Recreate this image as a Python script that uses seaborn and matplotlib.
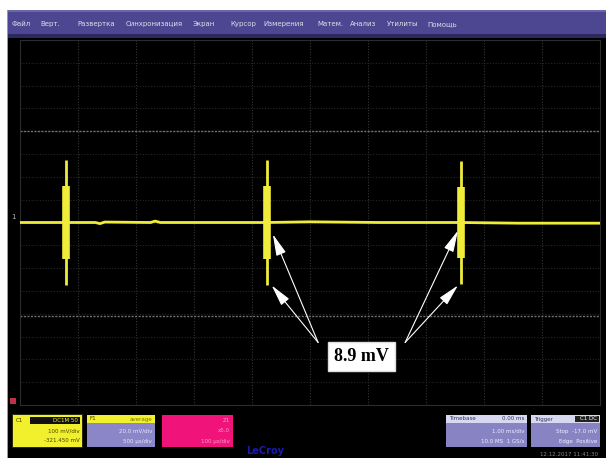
import numpy as np
import pandas as pd
import matplotlib
matplotlib.use("Agg")
import matplotlib.pyplot as plt
from matplotlib.patches import Rectangle
import seaborn as sns

W, H = 606, 458

# --- data (in graticule divisions: 10 horizontal, 8 vertical) ---
menu_items = ["Файл", "Верт.", "Развертка", "Синхронизация", "Экран", "Курсор",
              "Измерения", "Матем.", "Анализ", "Утилиты", "Помощь"]
menu_x = [12, 40, 77, 126, 193, 230, 263, 317, 350, 387, 427]

base_t = [0.0, 0.79, 1.3, 1.38, 1.46, 2.25, 2.33, 2.42, 4.26, 5.0, 6.2, 7.6, 8.6, 10.0]
base_v = [0.0, 0.0, 0.0, -0.025, 0.01, 0.0, 0.03, 0.0, 0.0, 0.015, 0.0, 0.0, -0.015, -0.015]

pulse_t = [0.79, 4.26, 7.6]
pulse_peak = [1.38, 1.36, 1.34]
pulse_core = [0.81, 0.80, 0.78]

cursor_levels = [2.0, -2.05]

label_text = "8.9 mV"
label_xy = (5.89, -2.94)
arrow_tails = [(5.14, -2.63), (5.14, -2.63), (6.64, -2.63), (6.64, -2.63)]
arrow_heads = [(4.36, -0.26), (4.34, -1.38), (7.55, -0.18), (7.55, -1.38)]

YELLOW = "#efec3a"


def px_rect(x0, y0, x1, y1):
    return [x0 / W, 1 - y1 / H, (x1 - x0) / W, (y1 - y0) / H]


def fig_box(fig, x0, y0, x1, y1, color, z=2):
    fig.add_artist(Rectangle((x0 / W, 1 - y1 / H), (x1 - x0) / W, (y1 - y0) / H,
                             transform=fig.transFigure, facecolor=color,
                             edgecolor="none", zorder=z))


def fig_text(fig, x, y, s, **kw):
    fig.text(x / W, 1 - y / H, s, **kw)


sns.set_theme(style="dark")
plt.rcParams["font.family"] = ["DejaVu Sans"]

fig = plt.figure(figsize=(W / 100, H / 100), dpi=100)
fig.patch.set_facecolor("white")

# screen background
fig_box(fig, 7, 10, 606, 458, "black", z=0)
fig_box(fig, 7, 10, 8, 458, "#9a9a9a", z=1)

# menu bar
fig_box(fig, 8, 10, 606, 38, "#4c4790", z=1)
fig_box(fig, 8, 10, 606, 12, "#6a66a8", z=1)
fig_box(fig, 8, 34, 606, 38, "#2c2960", z=1)
for name, x in zip(menu_items, menu_x):
    fig_text(fig, x, 24, name, fontsize=5.0, color="#dcdcec", va="center", zorder=3)

# graticule
ax = fig.add_axes(px_rect(20, 40, 600, 405))
ax.set_facecolor("black")
ax.set_xlim(0, 10)
ax.set_ylim(-4, 4)
for v in np.arange(1, 10):
    ax.axvline(v, color="#353535", lw=0.8, ls=(0, (1, 1.5)), zorder=1)
for h in np.arange(-3.5, 4, 0.5):
    ax.axhline(h, color="#262626", lw=0.8, ls=(0, (1, 1.5)), zorder=1)
for c in cursor_levels:
    ax.axhline(c, color="#707070", lw=1.0, ls=(0, (1.5, 1)), zorder=1)
for s in ax.spines.values():
    s.set_color("#2c2c2c")
    s.set_linewidth(0.8)
ax.set_xticks([])
ax.set_yticks([])

# trace
trace = pd.DataFrame({"t": base_t, "v": base_v})
sns.lineplot(data=trace, x="t", y="v", ax=ax, color=YELLOW, lw=2.0, zorder=4)
ax.set_xlabel("")
ax.set_ylabel("")
ax.vlines(pulse_t, [-p for p in pulse_peak], pulse_peak, color=YELLOW, lw=2.0, zorder=5)
ax.vlines(pulse_t, [-p for p in pulse_core], pulse_core, color=YELLOW, lw=5.5, zorder=5)

# annotation arrows and label
for tail, head in zip(arrow_tails, arrow_heads):
    ax.annotate("", xy=head, xytext=tail,
                arrowprops=dict(arrowstyle="-|>,head_length=1.1,head_width=0.26",
                                color="white", lw=0.8, shrinkA=0, shrinkB=0),
                zorder=6)
ax.text(label_xy[0], label_xy[1], label_text, ha="center", va="center",
        fontsize=13, fontweight="bold", family=["Liberation Serif", "DejaVu Serif"],
        color="black",
        bbox=dict(boxstyle="square,pad=0.35", facecolor="white", edgecolor="#dddddd"),
        zorder=7)

# channel markers on the left
fig_text(fig, 13, 217, "1", fontsize=5, color="#b8b8b8", ha="center", va="center", zorder=3)
fig_box(fig, 10, 398, 16, 404, "#c03048", z=3)

# channel descriptor boxes
fig_box(fig, 12, 414, 83, 448, "#2a2a10", z=2)
fig_box(fig, 13, 415, 82, 447, "#f2f02c", z=3)
fig_box(fig, 30, 417, 80, 424, "#111111", z=4)
fig_text(fig, 16, 420.5, "C1", fontsize=4, color="#333300", va="center", zorder=5)
fig_text(fig, 78, 420.5, "DC1M 50", fontsize=4, color="#f2f02c", ha="right", va="center", zorder=5)
fig_text(fig, 80, 431, "100 mV/div", fontsize=4, color="#444400", ha="right", va="center", zorder=5)
fig_text(fig, 80, 441, "-321.450 mV", fontsize=4, color="#444400", ha="right", va="center", zorder=5)

fig_box(fig, 87, 415, 155, 423, "#f2f02c", z=3)
fig_box(fig, 87, 423, 155, 447, "#8a86c8", z=3)
fig_text(fig, 90, 419, "F1", fontsize=4, color="#333300", va="center", zorder=5)
fig_text(fig, 152, 419, "average", fontsize=4, color="#777700", ha="right", va="center", zorder=5)
fig_text(fig, 152, 431, "20.0 mV/div", fontsize=4, color="#e8e8ff", ha="right", va="center", zorder=5)
fig_text(fig, 152, 441, "500 µs/div", fontsize=4, color="#e8e8ff", ha="right", va="center", zorder=5)

fig_box(fig, 162, 415, 233, 447, "#f0147a", z=3)
fig_text(fig, 230, 420, "Z1", fontsize=4, color="#ff9ac8", ha="right", va="center", zorder=5)
fig_text(fig, 230, 431, "x5.0", fontsize=4, color="#ff9ac8", ha="right", va="center", zorder=5)
fig_text(fig, 230, 441, "100 µs/div", fontsize=4, color="#ff9ac8", ha="right", va="center", zorder=5)

fig_text(fig, 265, 451, "LeCroy", fontsize=7, color="#1a1ab0", fontweight="bold",
         ha="center", va="center", zorder=5)

# timebase / trigger boxes
fig_box(fig, 446, 415, 527, 447, "#8884c4", z=3)
fig_box(fig, 446, 415, 527, 423, "#d8d8f0", z=4)
fig_text(fig, 449, 419, "Timebase", fontsize=4, color="#333366", va="center", zorder=5)
fig_text(fig, 524, 419, "0.00 ms", fontsize=4, color="#333366", ha="right", va="center", zorder=5)
fig_text(fig, 524, 431, "1.00 ms/div", fontsize=4, color="#eeeeff", ha="right", va="center", zorder=5)
fig_text(fig, 524, 441, "10.0 MS  1 GS/s", fontsize=4, color="#eeeeff", ha="right", va="center", zorder=5)

fig_box(fig, 531, 415, 600, 447, "#8884c4", z=3)
fig_box(fig, 531, 415, 600, 423, "#d8d8f0", z=4)
fig_box(fig, 575, 416, 599, 422, "#222222", z=5)
fig_text(fig, 534, 419, "Trigger", fontsize=4, color="#333366", va="center", zorder=5)
fig_text(fig, 597, 419, "C1 DC", fontsize=4, color="white", ha="right", va="center", zorder=6)
fig_text(fig, 597, 431, "Stop  -17.0 mV", fontsize=4, color="#eeeeff", ha="right", va="center", zorder=5)
fig_text(fig, 597, 441, "Edge  Positive", fontsize=4, color="#eeeeff", ha="right", va="center", zorder=5)

fig_text(fig, 598, 454, "12.12.2017 11:41:30", fontsize=4, color="#888888", ha="right",
         va="center", zorder=5)

fig.savefig("out.png", dpi=100, facecolor=fig.get_facecolor())
